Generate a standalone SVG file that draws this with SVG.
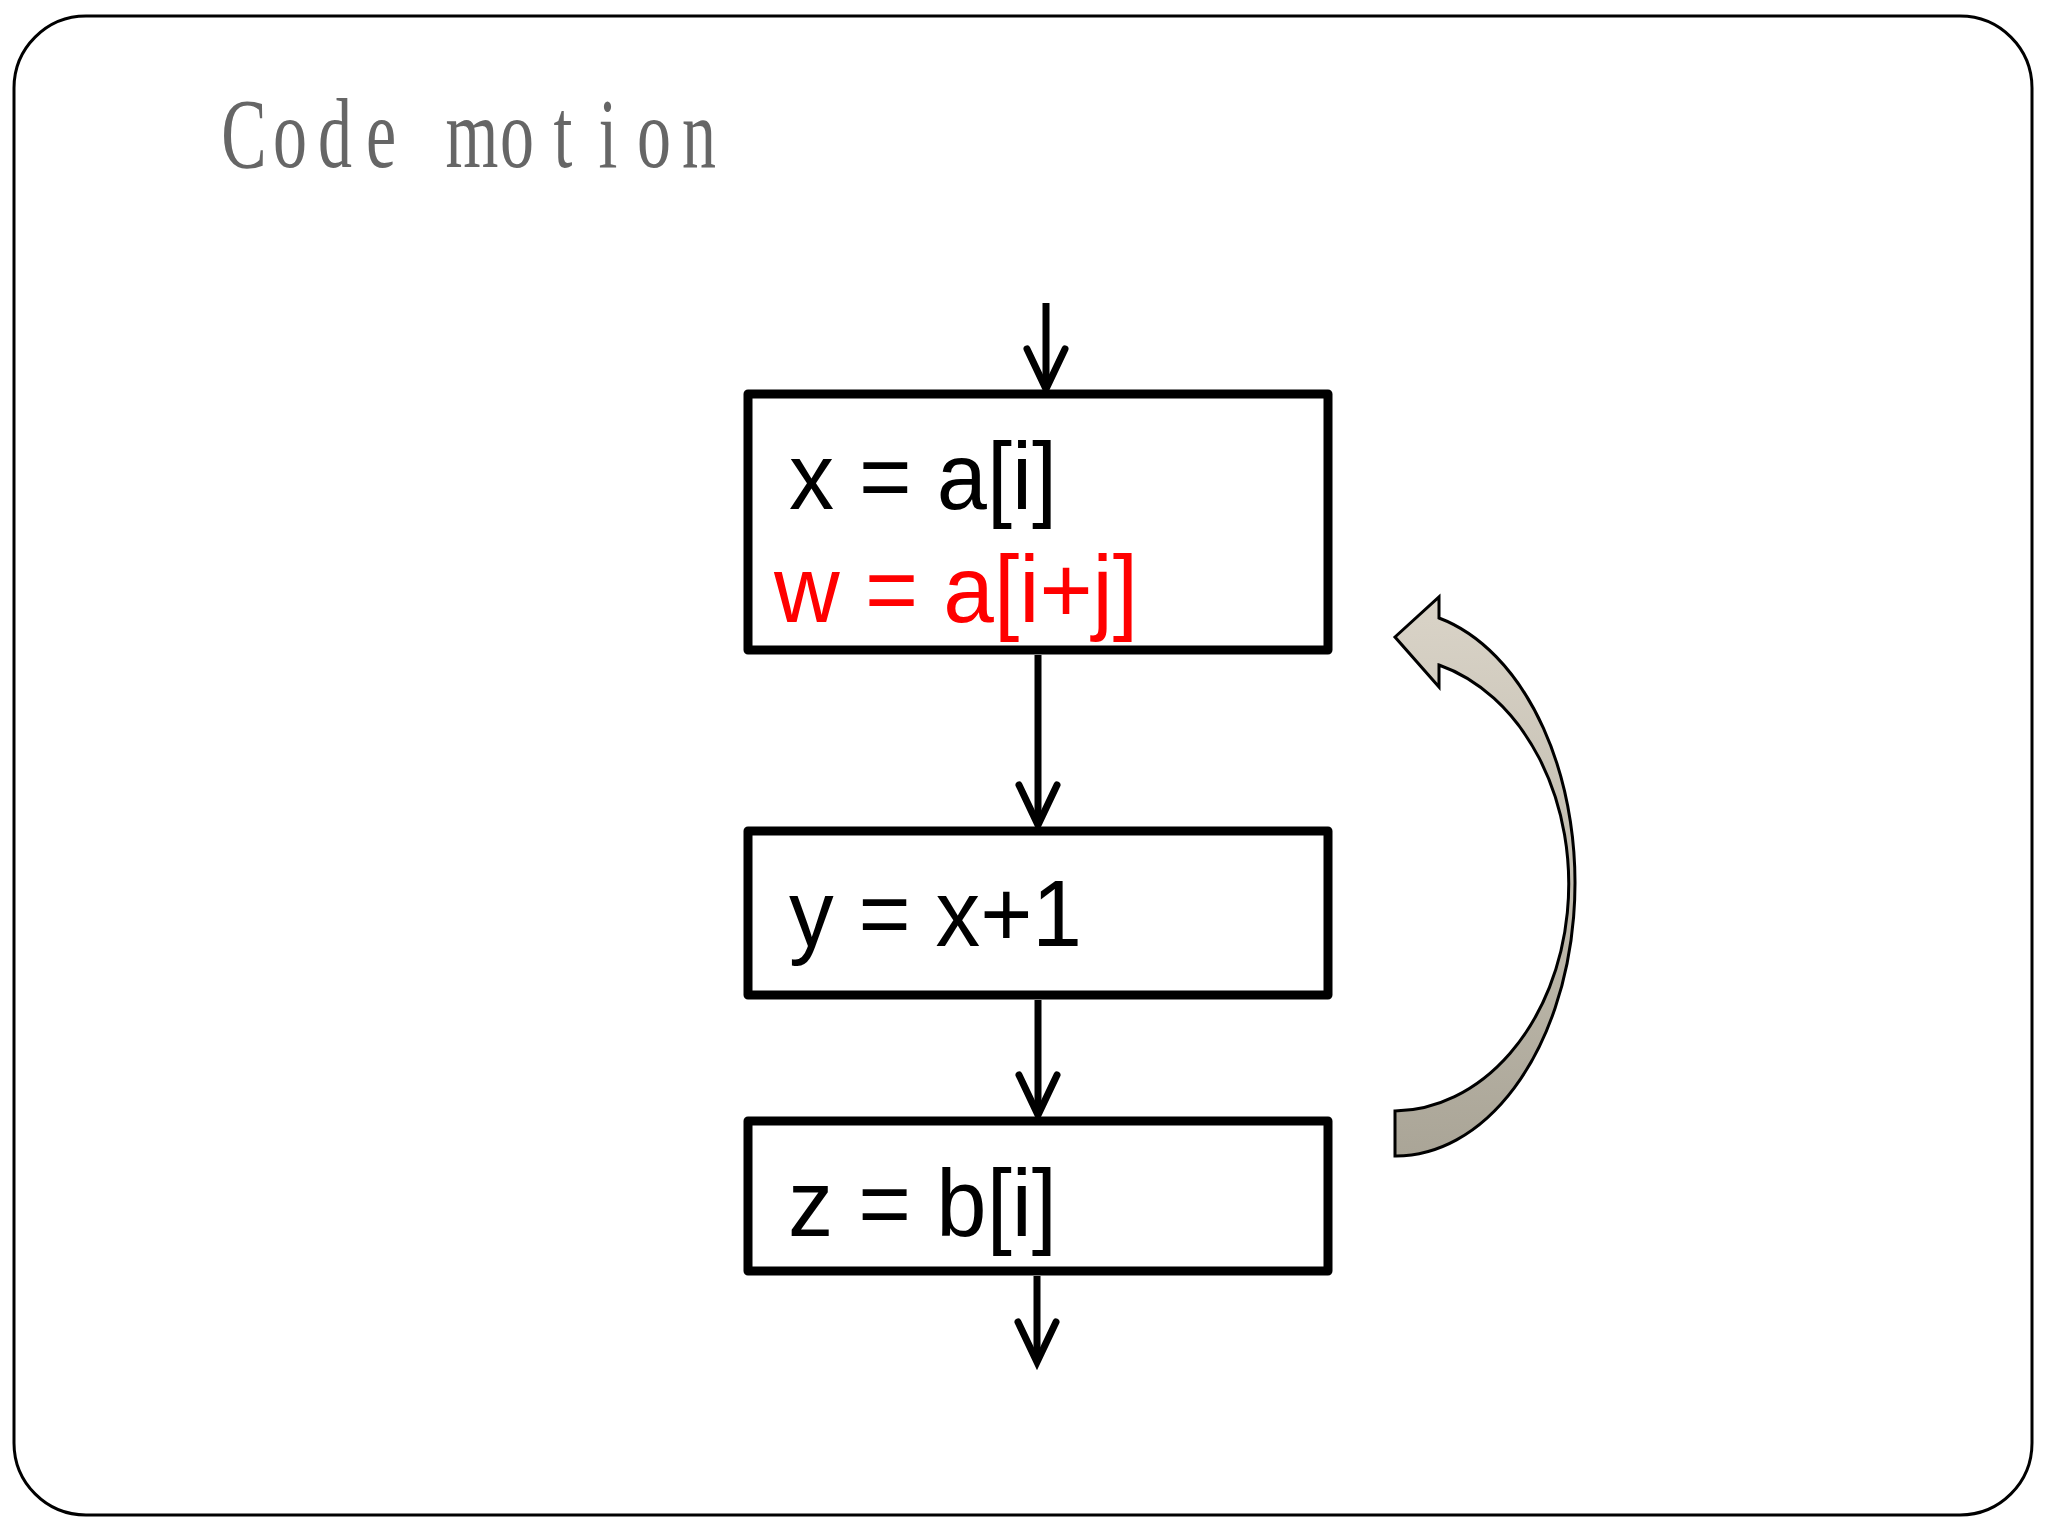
<svg xmlns="http://www.w3.org/2000/svg" width="2048" height="1536" viewBox="0 0 2048 1536">
<defs>
<style>
.frame{fill:#fff;stroke:#000;stroke-width:3}
.box{fill:#fff;stroke:#000;stroke-width:9;stroke-linejoin:round}
.code{font-family:"Liberation Sans",Arial,sans-serif;font-size:94px;fill:#000}
.red{fill:#ff0000}
.title{font-family:"Liberation Serif","Times New Roman",serif;font-size:100px;fill:#666;text-anchor:middle}
.edge{fill:none;stroke:#000;stroke-width:7;marker-end:url(#ah)}
</style>
<marker id="ah" markerUnits="userSpaceOnUse" markerWidth="60" markerHeight="60" refX="0" refY="0" orient="auto" overflow="visible">
<path d="M-40,-19 L0,0 L-40,19" fill="none" stroke="#000" stroke-width="7" stroke-linecap="round" stroke-linejoin="miter"/>
</marker>
<linearGradient id="cg" x1="0" y1="0" x2="0" y2="1">
<stop offset="0" stop-color="#dad4c8"/>
<stop offset="1" stop-color="#aaa597"/>
</linearGradient>
</defs>
<rect class="frame" x="14" y="16" width="2018" height="1499" rx="72" ry="72"/>
<text class="title" transform="scale(0.68,1)" x="358.8 426.5 492.6 560.3 626.5 694.1 760.3 827.9 894.1 961.8 1027.9" y="167">Code motion</text>
<g id="connectors">
<path class="edge" d="M1046,303 L1046,389"/>
<path class="edge" d="M1038,655 L1038,825"/>
<path class="edge" d="M1038,1000 L1038,1115"/>
<path class="edge" d="M1037,1276 L1037,1362"/>
</g>
<g id="node1">
<rect class="box" x="748" y="394" width="580" height="256"/>
<text class="code" x="789" y="509" textLength="268" lengthAdjust="spacingAndGlyphs">x = a[i]</text>
<text class="code red" x="774" y="622" textLength="364" lengthAdjust="spacingAndGlyphs">w = a[i+j]</text>
</g>
<g id="node2">
<rect class="box" x="748" y="831" width="580" height="164"/>
<text class="code" x="789" y="946" textLength="293" lengthAdjust="spacingAndGlyphs">y = x+1</text>
</g>
<g id="node3">
<rect class="box" x="748" y="1121" width="580" height="150"/>
<text class="code" x="788" y="1236" textLength="269" lengthAdjust="spacingAndGlyphs">z = b[i]</text>
</g>
<g id="motion-arrow">
<path d="M1395,1156 A179,273 0 0 0 1439,618 L1439,597 L1395,637 L1439,687 L1439,665 A176,227 0 0 1 1395,1111 Z" fill="url(#cg)" stroke="#000" stroke-width="3" stroke-linejoin="miter"/>
</g>
</svg>
